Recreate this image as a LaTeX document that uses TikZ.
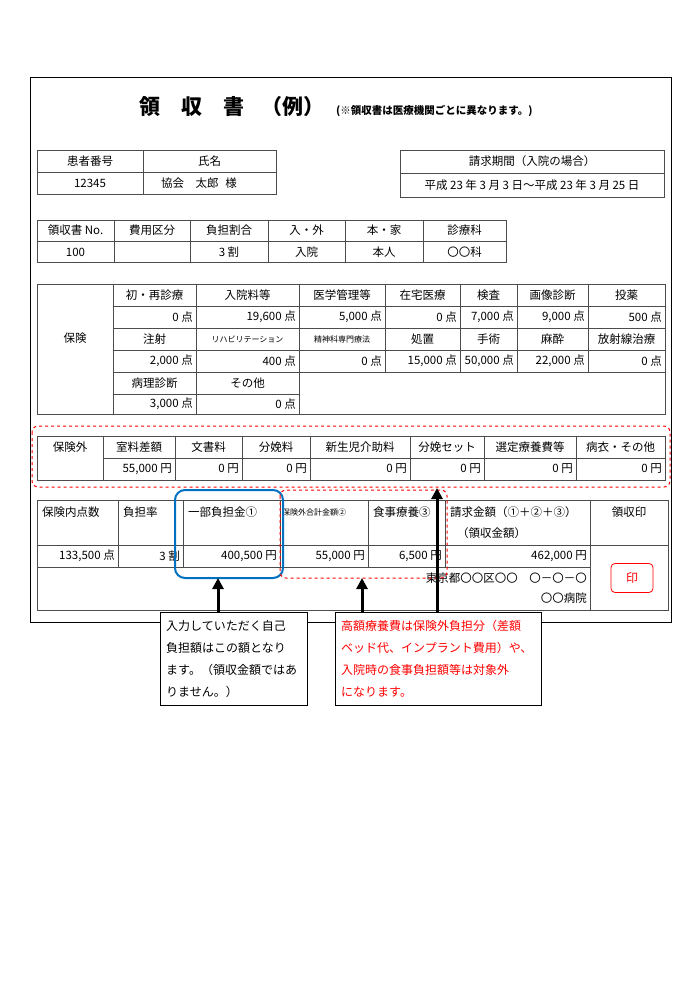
\documentclass[tikz,border=0pt]{standalone}
\usepackage{fontspec}
\setmainfont{Noto Sans CJK JP}
\usetikzlibrary{arrows.meta}
\tikzset{
 grid/.style={draw=black!70,line width=0.6pt},
 t/.style={inner sep=0pt,font=\fontsize{11.5}{13}\selectfont},
 ts/.style={inner sep=0pt,font=\fontsize{8}{9}\selectfont},
 bigarrow/.style={line width=3pt,-{Triangle[length=11pt,width=11pt]}},
 reddash/.style={draw=red,dashed,line width=1pt,rounded corners=6pt}
}
\newcommand{\C}[5]{\node[t] (#1) at ({(#2+#3)/2},#4) {#5};}
\newcommand{\R}[4]{\node[t,anchor=east] (#1) at (#2-3,#3) {#4};}
\newcommand{\Lf}[4]{\node[t,anchor=west] (#1) at (#2+5,#3) {#4};}
\begin{document}
\begin{tikzpicture}[x=1pt,y=-1pt]
\useasboundingbox (0,0) rectangle (700,991);
\fill[white] (0,0) rectangle (700,991);
\draw[line width=0.8pt] (30,77) rectangle (671,622);
% title
\node[inner sep=0pt,font=\fontsize{21}{24}\selectfont\bfseries] (title) at (232,107) {領\hspace{1em}収\hspace{1em}書\hspace{0.8em}（例）};
\node[inner sep=0pt,anchor=west,font=\fontsize{10.5}{12}\selectfont\bfseries] (note) at (336,111) {(※領収書は医療機関ごとに異なります。)};
% patient
\draw[grid] (37,150) rectangle (276,194); \draw[grid] (143,150)--(143,194); \draw[grid] (37,172)--(276,172);
\C{p1}{37}{143}{161}{患者番号}\C{p2}{143}{276}{161}{氏名}
\C{p3}{37}{143}{183}{12345}\C{p4}{143}{255}{183}{協会\hspace{1em}太郎\hspace{0.6em}様}
% period
\draw[grid] (400,150) rectangle (664,197); \draw[grid] (400,173)--(664,173);
\C{q1}{400}{664}{161}{請求期間（入院の場合）}
\C{q2}{400}{664}{185}{平成 23 年 3 月 3 日～平成 23 年 3 月 25 日}
% row 3
\draw[grid] (37,220) rectangle (506,262); \draw[grid] (37,241)--(506,241);
\foreach \x in {114,190,268,345,423} \draw[grid] (\x,220)--(\x,262);
\C{r1}{37}{114}{230}{領収書 No.}\C{r2}{114}{190}{230}{費用区分}\C{r3}{190}{268}{230}{負担割合}
\C{r4}{268}{345}{230}{入・外}\C{r5}{345}{423}{230}{本・家}\C{r6}{423}{506}{230}{診療科}
\C{s1}{37}{114}{252}{100}\C{s3}{190}{268}{252}{3 割}\C{s4}{268}{345}{252}{入院}\C{s5}{345}{423}{252}{本人}\C{s6}{423}{506}{252}{〇〇科}
% insurance
\draw[grid] (37,284) rectangle (665,414);
\draw[grid] (113,284)--(113,414); \draw[grid] (196,284)--(196,414); \draw[grid] (299,284)--(299,414);
\foreach \x in {385,460,517,588} \draw[grid] (\x,284)--(\x,372);
\foreach \y in {306,328,350} \draw[grid] (113,\y)--(665,\y);
\draw[grid] (113,372)--(665,372); \draw[grid] (113,394)--(299,394);
\C{h0}{37}{113}{338}{保険}
\C{a1}{113}{196}{295}{初・再診療}\C{a2}{196}{299}{295}{入院料等}\C{a3}{299}{385}{295}{医学管理等}\C{a4}{385}{460}{295}{在宅医療}\C{a5}{460}{517}{295}{検査}\C{a6}{517}{588}{295}{画像診断}\C{a7}{588}{665}{295}{投薬}
\R{b1}{196}{317}{0 点}\R{b2}{299}{317}{19,600 点}\R{b3}{385}{317}{5,000 点}\R{b4}{460}{317}{0 点}\R{b5}{517}{317}{7,000 点}\R{b6}{588}{317}{9,000 点}\R{b7}{665}{317}{500 点}
\C{c1}{113}{196}{339}{注射}\node[ts] (c2) at (247.5,339) {リハビリテーション};\node[ts] (c3) at (342,339) {精神科専門療法};\C{c4}{385}{460}{339}{処置}\C{c5}{460}{517}{339}{手術}\C{c6}{517}{588}{339}{麻酔}\C{c7}{588}{665}{339}{放射線治療}
\R{d1}{196}{361}{2,000 点}\R{d2}{299}{361}{400 点}\R{d3}{385}{361}{0 点}\R{d4}{460}{361}{15,000 点}\R{d5}{517}{361}{50,000 点}\R{d6}{588}{361}{22,000 点}\R{d7}{665}{361}{0 点}
\C{e1}{113}{196}{383}{病理診断}\C{e2}{196}{299}{383}{その他}
\R{f1}{196}{404}{3,000 点}\R{f2}{299}{404}{0 点}
% outside insurance
\draw[grid] (37,436) rectangle (665,480); \draw[grid] (103,458)--(665,458);
\foreach \x in {103,175,242,310,410,484,576} \draw[grid] (\x,436)--(\x,480);
\node[t] (g0) at (70,447) {保険外};
\C{g1}{103}{175}{447}{室料差額}\C{g2}{175}{242}{447}{文書料}\C{g3}{242}{310}{447}{分娩料}\C{g4}{310}{410}{447}{新生児介助料}\C{g5}{410}{484}{447}{分娩セット}\C{g6}{484}{576}{447}{選定療養費等}\C{g7}{576}{665}{447}{病衣・その他}
\R{k1}{175}{469}{55,000 円}\R{k2}{242}{469}{0 円}\R{k3}{310}{469}{0 円}\R{k4}{410}{469}{0 円}\R{k5}{484}{469}{0 円}\R{k6}{576}{469}{0 円}\R{k7}{665}{469}{0 円}
\draw[reddash] (32,426) rectangle (670,487);
% bottom table
\draw[grid] (37,500) rectangle (668,610);
\foreach \x in {118,183,280,368,445} \draw[grid] (\x,500)--(\x,567);
\draw[grid] (590,500)--(590,610);
\draw[grid] (37,545)--(668,545); \draw[grid] (37,567)--(590,567);
\Lf{m1}{37}{512}{保険内点数}\Lf{m2}{118}{512}{負担率}\Lf{m3}{183}{512}{一部負担金①}
\node[ts,anchor=west] (m4) at (282,512) {保険外合計金額②};
\Lf{m5}{368}{512}{食事療養③}\Lf{m6}{445}{512}{請求金額（①＋②＋③）}\Lf{m6b}{452}{533}{（領収金額）}
\C{m7}{590}{668}{512}{領収印}
\R{n1}{118}{556}{133,500 点}\R{n2}{183}{556}{3 割}\R{n3}{280}{556}{400,500 円}\R{n4}{368}{556}{55,000 円}\R{n5}{445}{556}{6,500 円}\R{n6}{590}{556}{462,000 円}
\R{ad1}{590}{578}{東京都〇〇区〇〇\hspace{1em}〇－〇－〇}
\R{ad2}{590}{598}{〇〇病院}
\node[draw=red,line width=0.8pt,rounded corners=4pt,minimum width=42pt,minimum height=29pt,text=red,font=\fontsize{12}{14}\selectfont] (stamp) at (632,578) {印};
% highlight boxes
\draw[draw={rgb,255:red,0;green,112;blue,192},line width=2pt,rounded corners=10pt] (175,490) rectangle (283,578);
\draw[reddash] (280,490) rectangle (447,578);
\coordinate (blueb) at (218,578); \coordinate (redb) at (362,578); \coordinate (outb) at (437,488);
% callouts
\node[draw,line width=1pt,fill=white,anchor=north west,minimum width=147pt,minimum height=93pt,inner sep=0pt] (cb1) at (160,612) {};
\node[anchor=north west,inner sep=0pt,align=left,font=\fontsize{12}{22}\selectfont] (cb1t) at (166,620) {入力していただく自己\\負担額はこの額となり\\ます。（領収金額ではあ\\りません。）};
\node[draw,line width=1pt,fill=white,anchor=north west,minimum width=206pt,minimum height=93pt,inner sep=0pt] (cb2) at (335,612) {};
\node[anchor=north west,inner sep=0pt,align=left,text=red,font=\fontsize{12}{22}\selectfont] (cb2t) at (341,620) {高額療養費は保険外負担分（差額\\ベッド代、インプラント費用）や、\\入院時の食事負担額等は対象外\\になります。};
\draw[bigarrow] (cb1.north -| blueb) -- (blueb);
\draw[bigarrow] (cb2.north -| redb) -- (redb);
\draw[bigarrow] (cb2.north -| outb) -- (outb);
\end{tikzpicture}
\end{document}
